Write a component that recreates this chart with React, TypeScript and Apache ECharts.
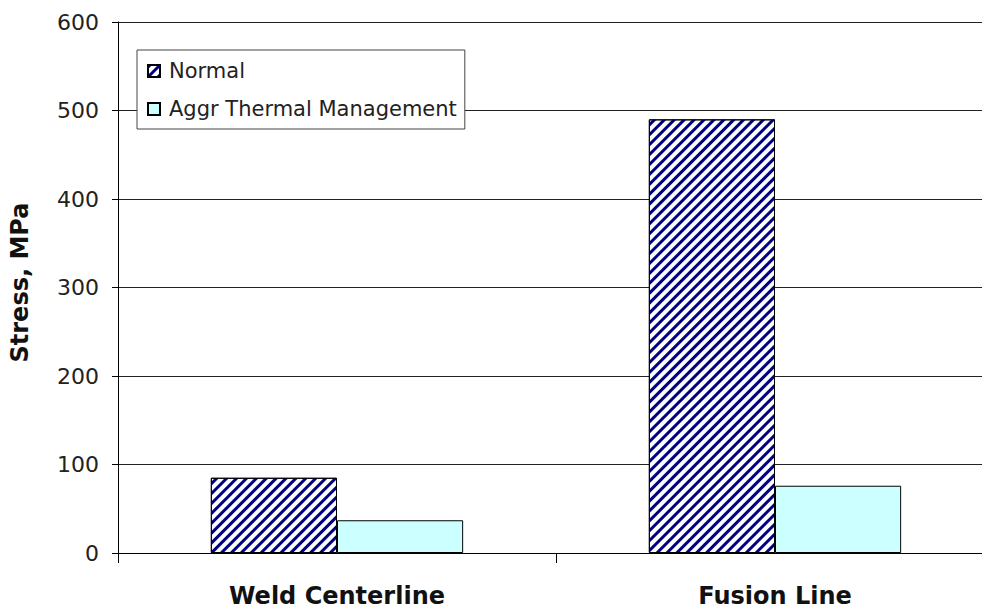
import React, { useEffect, useRef } from "react";
import * as echarts from "echarts";

const categories = ["Weld Centerline", "Fusion Line"];
const normalValues = [85, 490];
const aggrValues = [37, 76];
const seriesNames = ["Normal", "Aggr Thermal Management"];
const yTicks = { min: 0, max: 600, interval: 100 };

export default function App() {
  const ref = useRef<HTMLDivElement>(null);
  useEffect(() => {
    if (!ref.current) return;
    document.body.style.margin = "0";
    document.body.style.overflow = "hidden";
    const chart = echarts.init(ref.current, undefined, { renderer: "svg" });
    const font = "DejaVu Sans";
    chart.setOption({
      animation: false,
      backgroundColor: "#ffffff",
      textStyle: { fontFamily: font },
      grid: { left: 116, top: 22, bottom: 58, right: 0, containLabel: false },
      legend: {
        orient: "vertical",
        left: 137,
        top: 50,
        padding: [10, 8, 9, 10],
        itemWidth: 12,
        itemHeight: 12,
        itemGap: 16,
        backgroundColor: "#ffffff",
        borderColor: "#444",
        borderWidth: 1,
        borderRadius: 0,
        textStyle: { fontFamily: font, fontSize: 21, color: "#222", lineHeight: 22, padding: [0, 0, 0, 4] },
        data: seriesNames.map((n) => ({ name: n, icon: "rect" })),
      },
      xAxis: {
        type: "category",
        data: categories,
        boundaryGap: true,
        axisLine: { show: true, lineStyle: { color: "#000", width: 1 } },
        axisTick: { show: true, inside: false, length: 10, alignWithLabel: false, lineStyle: { color: "#000" } },
        axisLabel: { fontFamily: font, fontSize: 24, fontWeight: "bold", color: "#111", margin: 31 },
        splitLine: { show: false },
      },
      yAxis: {
        type: "value",
        min: yTicks.min,
        max: yTicks.max,
        interval: yTicks.interval,
        name: "Stress, MPa",
        nameLocation: "middle",
        nameGap: 86,
        nameTextStyle: { fontFamily: font, fontSize: 24, fontWeight: "bold", color: "#111", padding: [0, 0, 0, 10] },
        axisLine: { show: true, lineStyle: { color: "#000", width: 1 } },
        axisTick: { show: true, inside: false, length: 6, lineStyle: { color: "#000" } },
        axisLabel: { fontFamily: font, fontSize: 22, color: "#222", margin: 19 },
        splitLine: { show: true, lineStyle: { color: "#222", width: 1 } },
      },
      series: [
        {
          name: seriesNames[0],
          type: "bar",
          data: normalValues,
          barGap: "0%",
          barCategoryGap: "42.4%",
          itemStyle: {
            color: "#ffffff",
            borderColor: "#000",
            borderWidth: 1,
            decal: {
              symbol: "rect",
              color: "#000080",
              dashArrayX: [1, 0],
              dashArrayY: [3, 3.4],
              symbolSize: 1,
              rotation: -Math.PI / 4,
            },
          },
        },
        {
          name: seriesNames[1],
          type: "bar",
          data: aggrValues,
          barGap: "0%",
          barCategoryGap: "42.4%",
          itemStyle: { color: "#ccffff", borderColor: "#000", borderWidth: 1 },
        },
      ],
    });
    return () => chart.dispose();
  }, []);
  return (
    <div
      ref={ref}
      style={{ position: "fixed", left: 0, top: 0, width: 994, height: 611, background: "#fff" }}
    />
  );
}
